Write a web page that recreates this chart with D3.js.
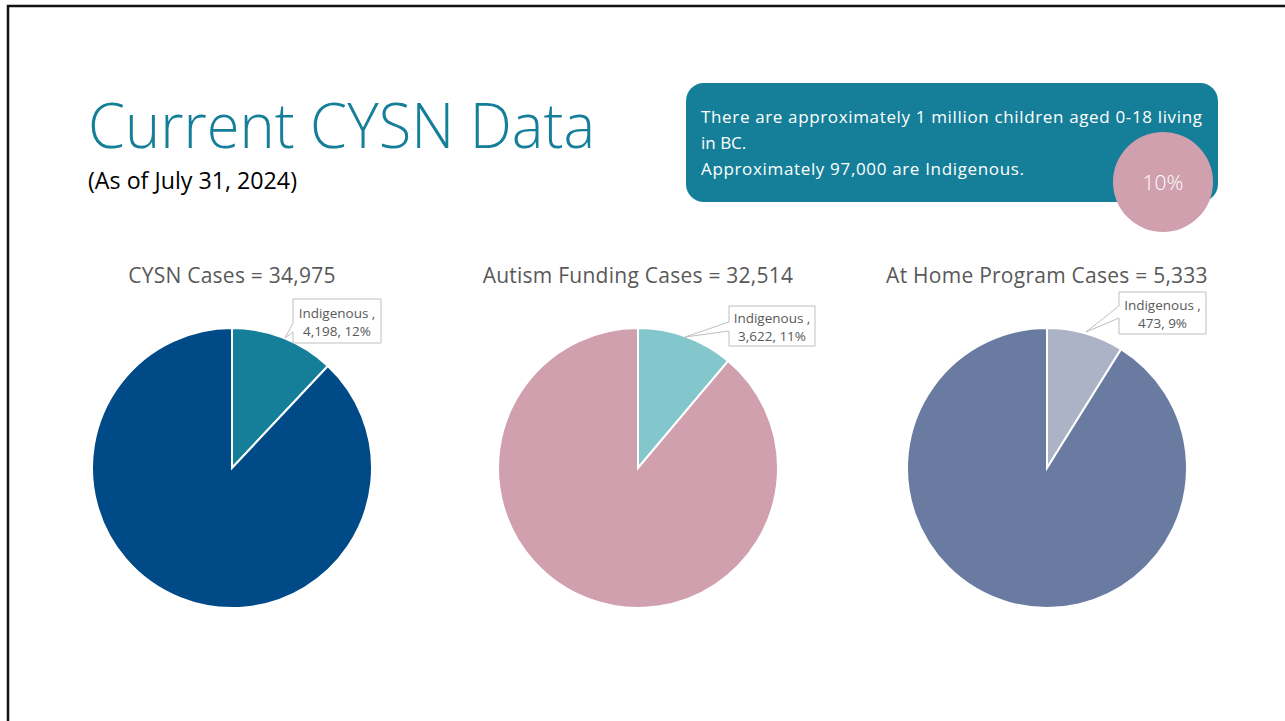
<!DOCTYPE html>
<html lang="en">
<head>
    <meta charset="UTF-8">
    <title>Current CYSN Data</title>
    <style>
        body { margin: 0; background: #fff; }
        svg { display: block; font-family: "Open Sans", "Noto Sans", sans-serif; }
    </style>
</head>
<body>
    <div id="chart"></div>
    <script src="https://d3js.org/d3.v7.min.js"></script>
    <script>
        const width = 1285;
        const height = 721;

        // data
        const chartTitles = ['CYSN Cases', 'Autism Funding Cases', 'At Home Program Cases'];
        const totals = [34975, 32514, 5333];
        const indigenous = [4198, 3622, 473];
        const indigenousPct = ['12%', '11%', '9%'];
        const sliceLabels = ['Indigenous', 'Non-Indigenous'];
        const mainColors = ['#004b87', '#d0a0af', '#6a7ba2'];
        const sliceColors = ['#157f99', '#83c6cb', '#adb3c6'];

        // label boxes (x, y, w, h), pointer tip and where the pointer leaves the box
        const labelBoxes = [
            { x: 293, y: 299, w: 88, h: 44, tip: [285, 338], p1: 323, p2: 332 },
            { x: 729, y: 306, w: 86, h: 40, tip: [685, 337], p1: 322, p2: 331 },
            { x: 1119, y: 292, w: 87, h: 42, tip: [1086, 332], p1: 306, p2: 318 }
        ];

        const fmt = d3.format(',');

        const svg = d3.select('#chart')
            .append('svg')
            .attr('width', width)
            .attr('height', height);

        // slide frame
        svg.append('path')
            .attr('d', `M8,${height + 5}V6H${width + 5}`)
            .attr('fill', 'none')
            .attr('stroke', '#111')
            .attr('stroke-width', 2.5);

        // title
        svg.append('text')
            .attr('x', 88)
            .attr('y', 148)
            .attr('font-size', 62)
            .attr('font-weight', 300)
            .attr('fill', '#157f99')
            .attr('textLength', 507)
            .attr('lengthAdjust', 'spacingAndGlyphs')
            .text('Current CYSN Data');

        svg.append('text')
            .attr('x', 88)
            .attr('y', 189)
            .attr('font-size', 23)
            .attr('fill', '#000')
            .attr('textLength', 209)
            .attr('lengthAdjust', 'spacingAndGlyphs')
            .text('(As of July 31, 2024)');

        // callout box
        const callout = svg.append('g');
        callout.append('rect')
            .attr('x', 686)
            .attr('y', 83)
            .attr('width', 532)
            .attr('height', 119)
            .attr('rx', 18)
            .attr('fill', '#157f99');
        const calloutLines = [
            'There are approximately 1 million children aged 0-18 living',
            'in BC.',
            'Approximately 97,000 are Indigenous.'
        ];
        callout.selectAll('text.line').data(calloutLines)
            .enter().append('text')
            .attr('class', 'line')
            .attr('x', 701)
            .attr('y', (d, i) => 123 + i * 26)
            .attr('font-size', 17)
            .attr('fill', '#fff')
            .attr('textLength', (d, i) => i === 0 ? 501 : (i === 2 ? 323 : null))
            .text(d => d);
        callout.append('circle')
            .attr('cx', 1163)
            .attr('cy', 182)
            .attr('r', 50)
            .attr('fill', '#d0a0af');
        callout.append('text')
            .attr('x', 1163)
            .attr('y', 190)
            .attr('text-anchor', 'middle')
            .attr('font-size', 21)
            .attr('font-weight', 300)
            .attr('fill', '#fff')
            .text('10%');

        // pies
        const centers = d3.scalePoint()
            .domain(chartTitles)
            .range([232, 1047]);
        const radius = 140;
        const cy = 468;

        const pie = d3.pie().sort(null).value(d => d.value);
        const arc = d3.arc().innerRadius(0).outerRadius(radius);

        chartTitles.forEach((title, i) => {
            const cx = centers(title) + (i === 1 ? -1.5 : 0);
            const data = [
                { name: sliceLabels[0], value: indigenous[i] },
                { name: sliceLabels[1], value: totals[i] - indigenous[i] }
            ];
            const g = svg.append('g').attr('transform', `translate(${cx},${cy})`);

            g.selectAll('path')
                .data(pie(data))
                .enter().append('path')
                .attr('d', arc)
                .attr('fill', (d, j) => j === 0 ? sliceColors[i] : mainColors[i])
                .attr('stroke', '#fff')
                .attr('stroke-width', 2);

            svg.append('text')
                .attr('x', cx)
                .attr('y', 283)
                .attr('text-anchor', 'middle')
                .attr('font-size', 21)
                .attr('letter-spacing', 0.25)
                .attr('fill', '#595959')
                .text(`${title} = ${fmt(totals[i])}`);

            // data label callout
            const b = labelBoxes[i];
            const lg = svg.append('g');
            lg.append('path')
                .attr('d', `M${b.x},${b.y}H${b.x + b.w}V${b.y + b.h}H${b.x}V${b.p2}L${b.tip[0]},${b.tip[1]}L${b.x},${b.p1}Z`)
                .attr('fill', '#fff')
                .attr('stroke', '#bfbfbf')
                .attr('stroke-width', 1);
            lg.selectAll('text')
                .data([`${sliceLabels[0]} ,`, `${fmt(indigenous[i])}, ${indigenousPct[i]}`])
                .enter().append('text')
                .attr('x', b.x + b.w / 2)
                .attr('y', (d, j) => b.y + b.h / 2 - 3 + j * 18)
                .attr('text-anchor', 'middle')
                .attr('font-size', 13.5)
                .attr('fill', '#595959')
                .text(d => d);
        });
    </script>
</body>
</html>
